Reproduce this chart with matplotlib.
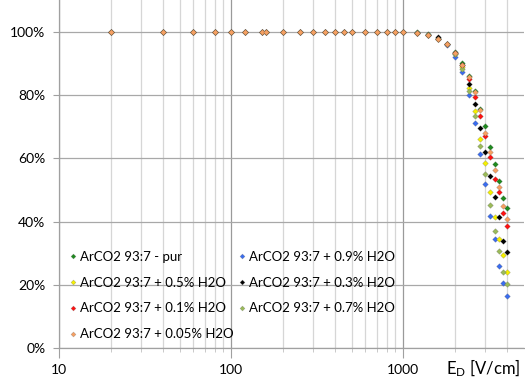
import matplotlib
matplotlib.use("Agg")
import matplotlib.pyplot as plt
from matplotlib.ticker import FixedLocator, FuncFormatter, NullFormatter

plt.rcParams['font.family'] = ['Lato', 'DejaVu Sans']
plt.rcParams['mathtext.default'] = 'regular'

# drift field [V/cm]
field = [20, 40, 60, 80, 100, 120, 150, 160, 200, 250, 300, 350, 400, 450, 500,
         600, 700, 800, 900, 1000, 1200, 1400, 1600, 1800, 2000, 2200, 2400,
         2600, 2800, 3000, 3200, 3400, 3600, 3800, 4000]

# plateau below 1 kV/cm is the same for all mixtures
plateau = [100, 100, 100, 100, 100, 100, 100, 100, 100, 100, 100, 100, 100,
           100, 100, 100, 100, 100, 100, 100]

pur = plateau + [99.8, 99.3, 97.9, 96.2, 93.5, 90.2, 86.0, 81.3, 75.6, 70.3,
                 63.6, 58.1, 52.8, 47.4, 44.2]
h2o_09 = plateau + [99.7, 99.0, 97.7, 95.8, 92.1, 87.2, 79.9, 71.1, 61.3, 51.8,
                    41.9, 34.5, 26.0, 20.6, 16.4]
h2o_05 = plateau + [99.7, 99.0, 97.7, 96.0, 93.0, 88.8, 82.1, 75.0, 66.2, 58.4,
                    49.3, 41.4, 34.5, 29.4, 24.0]
h2o_03 = plateau + [99.7, 99.1, 98.4, 96.1, 93.3, 89.5, 83.5, 77.2, 69.7, 62.0,
                    54.4, 47.8, 41.6, 34.0, 30.3]
h2o_01 = plateau + [99.7, 99.1, 97.8, 96.0, 93.3, 89.5, 85.2, 79.3, 73.5, 67.1,
                    60.4, 53.6, 49.5, 42.6, 38.6]
h2o_07 = plateau + [99.7, 99.0, 97.7, 96.0, 93.0, 88.2, 81.2, 73.5, 64.0, 55.1,
                    45.3, 37.1, 30.8, 24.2, 20.2]
h2o_005 = plateau + [99.7, 99.1, 97.8, 96.1, 93.4, 89.5, 85.6, 81.0, 75.3, 68.1,
                     61.9, 56.3, 51.0, 44.9, 40.7]

# drawing order as in the spreadsheet
series = [
    ("ArCO2 93:7 - pur", pur, "#1e8a1e"),
    ("ArCO2 93:7 + 0.9% H2O", h2o_09, "#3a6df0"),
    ("ArCO2 93:7 + 0.5% H2O", h2o_05, "#f5f000"),
    ("ArCO2 93:7 + 0.3% H2O", h2o_03, "#000000"),
    ("ArCO2 93:7 + 0.1% H2O", h2o_01, "#ff1010"),
    ("ArCO2 93:7 + 0.7% H2O", h2o_07, "#9bbb59"),
    ("ArCO2 93:7 + 0.05% H2O", h2o_005, "#f7a062"),
]

fig = plt.figure(figsize=(5.25, 3.85), dpi=100)
ax = fig.add_axes([59.3 / 525, (385 - 348.3) / 385, 464.2 / 525, 348.3 / 385])

handles = {}
for name, vals, col in series:
    h, = ax.plot(field, vals, linestyle='none', marker='D', ms=2.9,
                 mfc=col, mec=(0.3, 0.3, 0.3, 0.3), mew=0.5, label=name)
    handles[name] = h

ax.set_xscale('log')
ax.set_xlim(10, 5000)
ax.set_ylim(0, 110)

ax.yaxis.set_major_locator(FixedLocator([0, 20, 40, 60, 80, 100]))
ax.yaxis.set_major_formatter(FuncFormatter(lambda v, p: "%d%%" % v))
ax.xaxis.set_major_locator(FixedLocator([10, 100, 1000]))
ax.xaxis.set_major_formatter(FuncFormatter(lambda v, p: "%d" % v))
minors = [m * d for d in (10, 100, 1000) for m in range(2, 10) if m * d < 5000]
ax.xaxis.set_minor_locator(FixedLocator(minors))
ax.xaxis.set_minor_formatter(NullFormatter())

ax.grid(axis='y', which='major', color='#a8a8a8', lw=0.9)
ax.grid(axis='x', which='major', color='#9a9a9a', lw=0.9)
ax.grid(axis='x', which='minor', color='#d6d6d6', lw=0.9)
ax.set_axisbelow(True)

for s in ('top', 'right'):
    ax.spines[s].set_visible(False)
for s in ('left', 'bottom'):
    ax.spines[s].set_color('#a0a0a0')
    ax.spines[s].set_linewidth(0.9)

ax.tick_params(axis='both', which='major', labelsize=10, colors='#a0a0a0',
               labelcolor='black')
ax.tick_params(axis='x', which='major', length=7, pad=4)
ax.tick_params(axis='x', which='minor', length=3, color='#c0c0c0')
ax.tick_params(axis='y', which='major', length=4, pad=6)

order = ["ArCO2 93:7 - pur", "ArCO2 93:7 + 0.5% H2O", "ArCO2 93:7 + 0.1% H2O",
         "ArCO2 93:7 + 0.05% H2O", "ArCO2 93:7 + 0.9% H2O",
         "ArCO2 93:7 + 0.3% H2O", "ArCO2 93:7 + 0.7% H2O"]
ax.legend([handles[n] for n in order], order, ncol=2, loc='upper left',
          bbox_to_anchor=(0.021, 0.28), frameon=False, fontsize=9.5,
          handlelength=0.55, handletextpad=0.3, columnspacing=0.33,
          labelspacing=1.05, borderpad=0, borderaxespad=0, markerscale=0.85)

fig.text(520 / 525, (385 - 368) / 385, "E$_{D}$ [V/cm]", ha='right',
         va='center', fontsize=12)

fig.savefig("out.png", dpi=100)
